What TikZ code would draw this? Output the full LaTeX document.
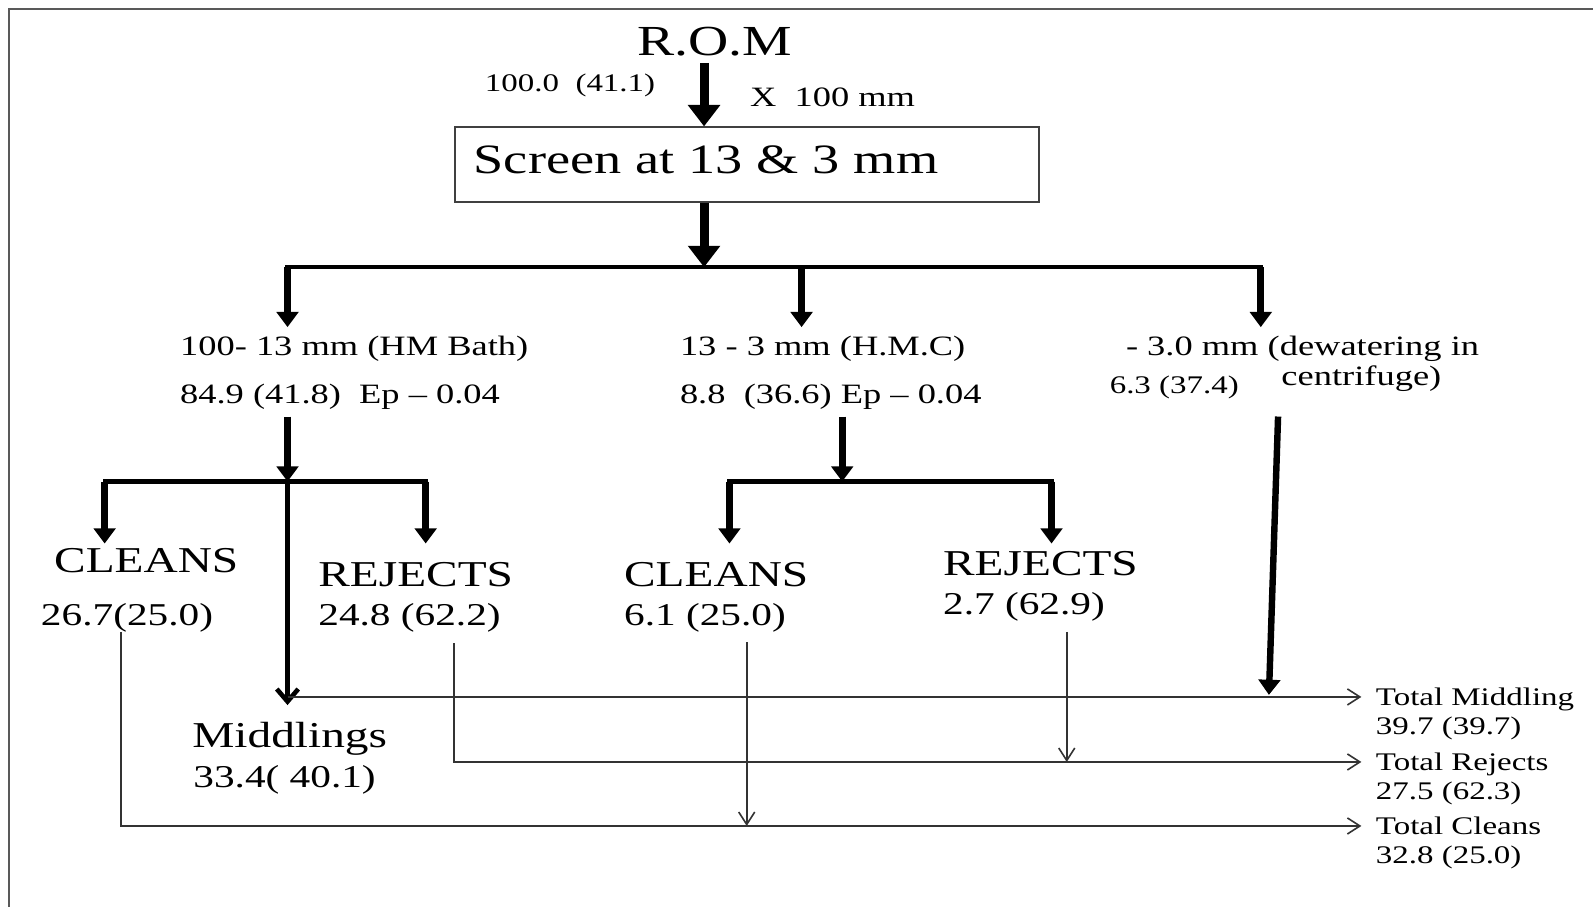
\documentclass[tikz,border=0pt]{standalone}
\usepackage{fontspec}
\setmainfont{Liberation Serif}[FakeStretch=1.3]
\usetikzlibrary{%
	arrows.meta,%
	positioning,%
	calc,%
}
\tikzset{
	>=Triangle,%
	txt/.style={inner sep=0pt, anchor=base west},%
	titletxt/.style={txt, font={\fontsize{24}{28}\selectfont}},%
	streamtxt/.style={txt, font={\fontsize{15.7}{18}\selectfont}},%
	smalltxt/.style={txt, font={\fontsize{14.2}{17}\selectfont}},%
	prodtxt/.style={txt, font={\fontsize{20.4}{24}\selectfont}},%
	numtxt/.style={txt, font={\fontsize{17.8}{21}\selectfont}},%
	totaltxt/.style={txt, font={\fontsize{14.2}{17}\selectfont}},%
	screenbox/.style={%
			draw=black!75,%
			line width=0.8pt,%
			rectangle,%
			anchor=west,%
			minimum width=327.2pt,%
			minimum height=42pt,%
			inner xsep=10.2pt,%
			text width=306pt,%
			align=left,%
			text height=12pt,%
			text depth=2.4pt,%
			font={\fontsize{23.4}{28}\selectfont}},%
	mainflow/.style={line width=5pt, -{Triangle[length=12pt,width=17.5pt]}},%
	drop/.style={line width=4pt, -{Triangle[length=8.5pt,width=12pt]}},%
	finesflow/.style={line width=3.6pt, -{Triangle[length=8.5pt,width=12pt]}},%
	splitline/.style={line width=2.4pt, line cap=rect},%
	midflow/.style={line width=2.6pt, -{Straight Barb[length=7pt,width=12pt]}},%
	collect/.style={line width=0.9pt, black!80, -{Straight Barb[length=7pt,width=9pt]}},%
	frame/.style={line width=1pt, black!65},%
}

\begin{document}
\begin{tikzpicture}[x=0.02cm, y=-0.02cm]
	\useasboundingbox (0,0) rectangle (1568,892);
	\draw[frame] (9,9) rectangle (1590,910);

	% feed and screen
	\node[titletxt, anchor=base] (rom) at (703.5,55) {R.O.M};
	\node[smalltxt] (romfeed) at (477,90.5) {100.0\ \ (41.1)};
	\node[streamtxt] (romsize) at (738,105) {X\ \ 100 mm};
	\node[screenbox] (screen) at (447,162) {Screen at 13 \& 3 mm};

	% size fractions
	\node[streamtxt] (hm) at (177,349.5) {100- 13 mm (HM Bath)};
	\node[streamtxt] (hmfeed) at (177,397.5) {84.9 (41.8)\ \ Ep -- 0.04};
	\node[streamtxt] (hmc) at (669,349.5) {13 - 3 mm (H.M.C)};
	\node[streamtxt] (hmcfeed) at (669,397.5) {8.8\ \ (36.6) Ep -- 0.04};
	\node[streamtxt] (fines) at (1108,349.5) {- 3.0 mm (dewatering in};
	\node[streamtxt, anchor=base] (fines2) at (1340,379) {centrifuge)};
	\node[smalltxt] (finesfeed) at (1092,387) {6.3 (37.4)};

	% products
	\node[prodtxt] (hmclean) at (53,564) {CLEANS};
	\node[numtxt] (hmcleannum) at (40,616) {26.7(25.0)};
	\node[prodtxt] (hmrej) at (313,577.5) {REJECTS};
	\node[numtxt] (hmrejnum) at (313,616) {24.8 (62.2)};
	\node[prodtxt] (mid) at (189,736) {Middlings};
	\node[numtxt] (midnum) at (190,775.5) {33.4( 40.1)};
	\node[prodtxt] (hmcclean) at (614,577.5) {CLEANS};
	\node[numtxt] (hmccleannum) at (614,616) {6.1 (25.0)};
	\node[prodtxt] (hmcrej) at (928,566) {REJECTS};
	\node[numtxt] (hmcrejnum) at (928,605) {2.7 (62.9)};

	% totals
	\node[totaltxt] (totmid) at (1354,694.5) {Total Middling};
	\node[totaltxt] (totmidnum) at (1354,723) {39.7 (39.7)};
	\node[totaltxt] (totrej) at (1354,758.5) {Total Rejects};
	\node[totaltxt] (totrejnum) at (1354,786.5) {27.5 (62.3)};
	\node[totaltxt] (totcln) at (1354,821.5) {Total Cleans};
	\node[totaltxt] (totclnnum) at (1354,850) {32.8 (25.0)};

	% junctions
	\coordinate (romout) at (693,62);
	\coordinate (split) at (693,263);
	\coordinate (sl) at (283,263);
	\coordinate (sm) at (789,263);
	\coordinate (sr) at (1241,263);
	\coordinate (streamtop) at (0,322);
	\coordinate (prodtop) at (0,535);
	\coordinate (hmout) at (283,410);
	\coordinate (hmsplit) at (283,474);
	\coordinate (hml) at (103,474);
	\coordinate (hmr) at (419,474);
	\coordinate (hmcout) at (829,410);
	\coordinate (hmcsplit) at (829,474);
	\coordinate (hmcl) at (718,474);
	\coordinate (hmcr) at (1035,474);
	\coordinate (midtip) at (283,694);
	\coordinate (finesout) at (1258,410);
	\coordinate (finestip) at (1249,684);
	\coordinate (midrail) at (1340,686);
	\coordinate (rejrail) at (1340,750);
	\coordinate (clnrail) at (1340,813);
	\coordinate (hmcleanout) at (119,622);
	\coordinate (hmrejout) at (447,633);
	\coordinate (hmccleanout) at (735,632);
	\coordinate (hmcrejout) at (1050,622);

	\draw[mainflow] (romout) -- (romout |- screen.north);
	\draw[mainflow] (romout |- screen.south) -- (split);
	\draw[splitline] (sl) -- (sr);
	\foreach \c in {sl,sm,sr}
		\draw[drop] (\c) -- (\c |- streamtop);

	\draw[drop] (hmout) -- (hmsplit);
	\draw[splitline] (hml) -- (hmr);
	\draw[drop] (hml) -- (hml |- prodtop);
	\draw[drop] (hmr) -- (hmr |- prodtop);
	\draw[midflow] (hmsplit) -- (midtip);

	\draw[drop] (hmcout) -- (hmcsplit);
	\draw[splitline] (hmcl) -- (hmcr);
	\draw[drop] (hmcl) -- (hmcl |- prodtop);
	\draw[drop] (hmcr) -- (hmcr |- prodtop);

	\draw[finesflow] (finesout) -- (finestip);

	\draw[collect] (midrail -| hmsplit) -- (midrail);
	\draw[collect] (hmrejout) |- (rejrail);
	\draw[collect] (hmcleanout) |- (clnrail);
	\draw[collect] (hmccleanout) -- (hmccleanout |- clnrail);
	\draw[collect] (hmcrejout) -- (hmcrejout |- rejrail);
\end{tikzpicture}
\end{document}
